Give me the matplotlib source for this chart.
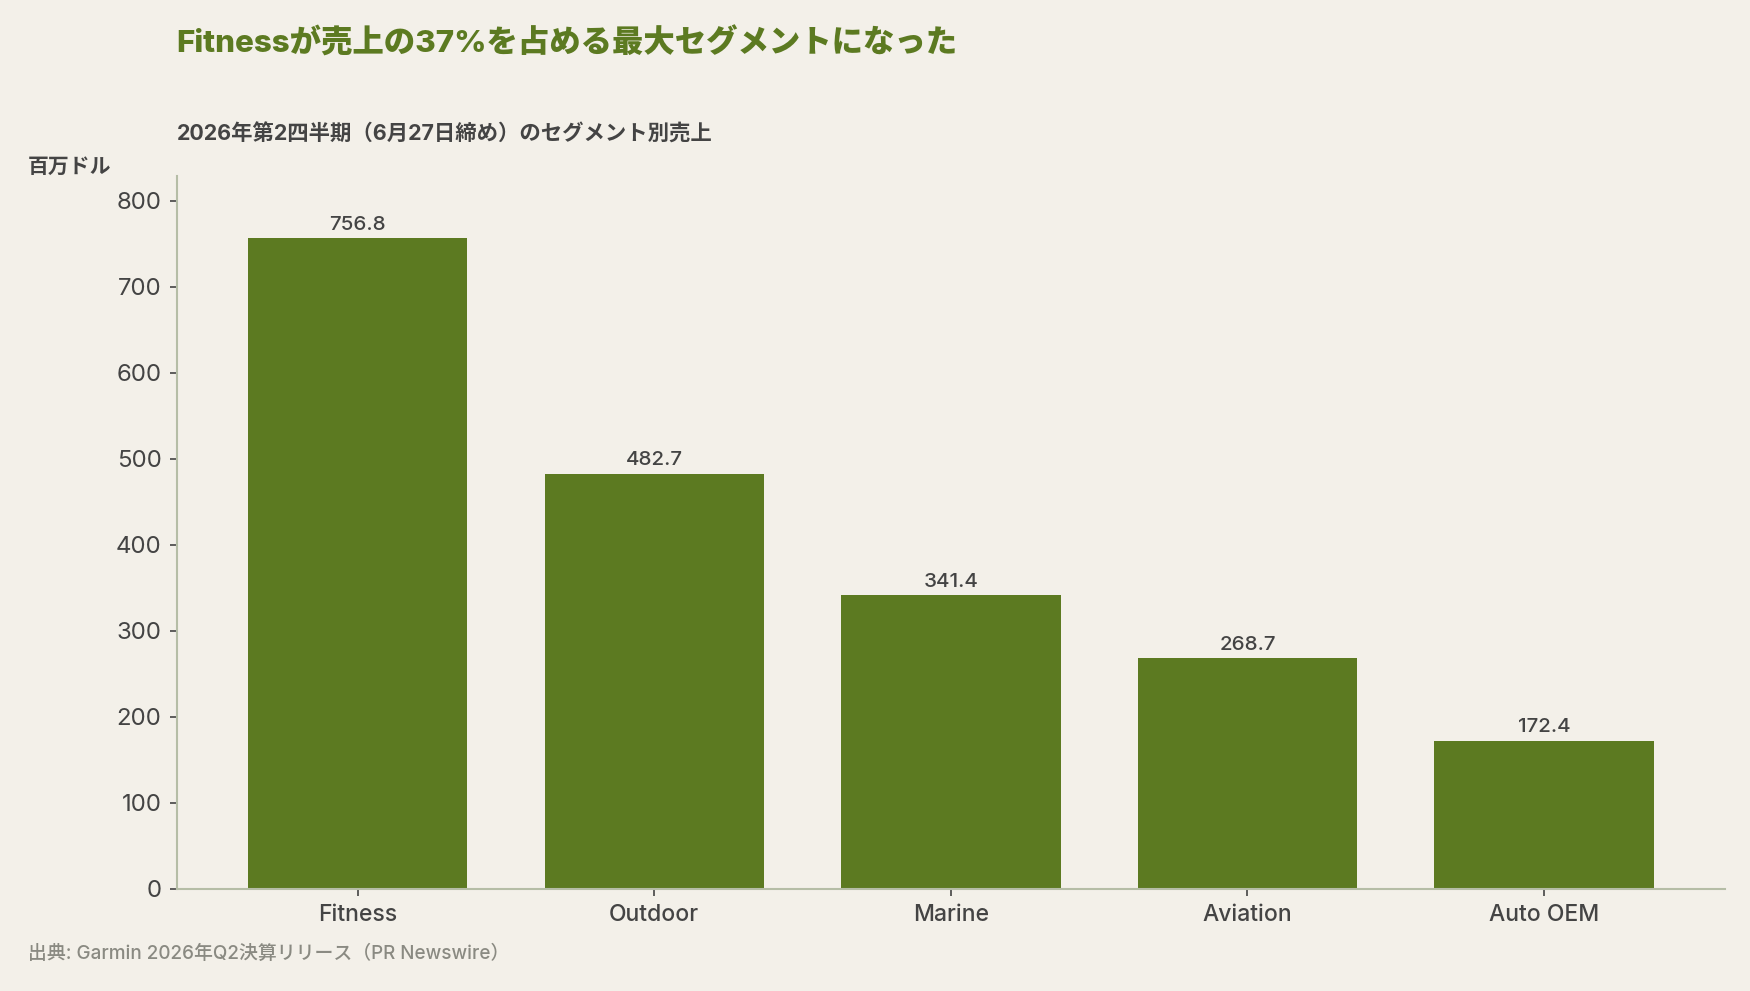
import matplotlib
matplotlib.use("Agg")
import matplotlib.pyplot as plt

plt.rcParams['font.family'] = ['Inter', 'Noto Sans CJK JP', 'DejaVu Sans']

categories = ["Fitness", "Outdoor", "Marine", "Aviation", "Auto OEM"]
values = [756.8, 482.7, 341.4, 268.7, 172.4]
yticks = [0, 100, 200, 300, 400, 500, 600, 700, 800]
title = "Fitnessが売上の37%を占める最大セグメントになった"
subtitle = "2026年第2四半期（6月27日締め）のセグメント別売上"
unit = "百万ドル"
source = "出典: Garmin 2026年Q2決算リリース（PR Newswire）"

BG = "#f3f0e9"
GREEN = "#5c7a21"
TEXT = "#444444"
SPINE = "#b5bda6"
GRAY = "#8a8a82"

fig = plt.figure(figsize=(17.5, 9.91), dpi=100, facecolor=BG)
ax = fig.add_axes([0.101, 0.103, 0.8847, 0.7194])
ax.set_facecolor(BG)

x = list(range(len(categories)))
bars = ax.bar(x, values, width=0.74, color=GREEN, zorder=2)
for xi, v in zip(x, values):
    ax.annotate(f"{v:.1f}", (xi, v), xytext=(0, 3), textcoords="offset points",
                ha="center", va="bottom", fontsize=14.8, color=TEXT,
                fontweight="medium")

ax.set_xlim(-0.61, 4.61)
ax.set_ylim(0, max(values) * 1.095)
ax.set_xticks(x)
ax.set_xticklabels(categories, fontsize=16.5, color=TEXT, fontweight="medium")
ax.set_yticks(yticks)
ax.set_yticklabels([str(t) for t in yticks], fontsize=17.3, color=TEXT)
ax.tick_params(axis='both', colors=TEXT, length=5, width=1.2)
ax.tick_params(axis='x', pad=6)
ax.tick_params(axis='y', pad=6)
for s in ["top", "right"]:
    ax.spines[s].set_visible(False)
for s in ["left", "bottom"]:
    ax.spines[s].set_color(SPINE)
    ax.spines[s].set_linewidth(1.5)

fig.text(0.101, 0.957, title, fontsize=22.6, fontweight="heavy", color=GREEN,
         ha="left", va="center")
fig.text(0.101, 0.865, subtitle, fontsize=15.4, fontweight="bold", color=TEXT,
         ha="left", va="center")
fig.text(0.016, 0.832, unit, fontsize=15, fontweight="bold", color=TEXT,
         ha="left", va="center")
fig.text(0.016, 0.038, source, fontsize=13.6, color=GRAY, ha="left", va="center",
         fontweight="medium")

fig.savefig("out.png", dpi=100, facecolor=BG)
